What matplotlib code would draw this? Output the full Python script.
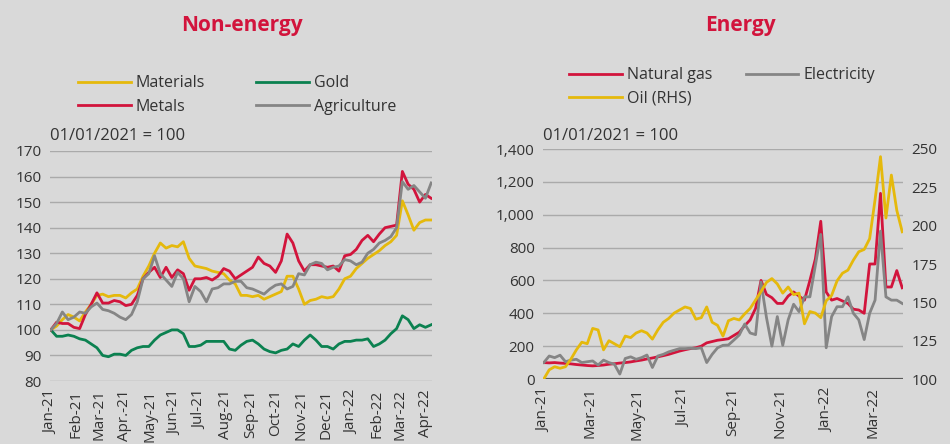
import numpy as np
import pandas as pd
import matplotlib
matplotlib.use("Agg")
import matplotlib.pyplot as plt
import matplotlib.dates as mdates
from matplotlib.ticker import MultipleLocator, StrMethodFormatter

plt.rcParams['font.family'] = ['Open Sans', 'DejaVu Sans']

# weekly readings, 01/01/2021 = 100
dates = pd.date_range('2021-01-01', periods=67, freq='7D')

materials = [100, 101.5, 104, 106, 105, 103.5, 107, 110, 113.5, 114, 113, 113.5, 113.5, 112.5, 114.5, 116,
             121, 125, 130, 134, 132, 133, 132.5, 134.5, 128, 125, 124.5, 124, 123, 122.5, 122, 119.5, 118, 113.5,
             113.5, 113, 113.5, 112, 113, 114, 115, 121, 121, 116, 110, 111.5, 112, 113, 112.5, 113, 116, 120,
             121, 124, 126, 128, 129.5, 131, 133, 134.5, 137, 150.5, 145, 139, 142, 143, 143]
metals = [100, 103, 102.5, 102.5, 101, 100.5, 106, 110, 114.5, 110.5, 110.5, 111.5, 111, 109.5, 110, 113.5,
          120, 122.5, 124.5, 120.5, 124.5, 120.5, 123.5, 122, 115.5, 120, 120, 120.5, 119.5, 121, 124, 123, 120, 121.5,
          123, 124.5, 128.5, 126, 125, 122.5, 127, 137.5, 134, 127, 123, 125.5, 125.5, 125, 124.5, 125, 123, 129,
          129.5, 131.5, 135, 137, 134.5, 137.5, 140, 140.5, 141, 162, 157, 155, 150, 153, 151.5]
gold = [100, 97.5, 97.5, 98, 97.5, 96.5, 96, 94.5, 93, 90, 89.5, 90.5, 90.5, 90, 92, 93,
        93.5, 93.5, 96, 98, 99, 100, 100, 98.5, 93.5, 93.5, 94, 95.5, 95.5, 95.5, 95.5, 92.5, 92, 94,
        95.5, 96, 94.5, 92.5, 91.5, 91, 92, 92.5, 94.5, 93.5, 96, 98, 96, 93.5, 93.5, 92.5, 94.5, 95.5,
        95.5, 96, 96, 96.5, 93.5, 94.5, 96, 98.5, 100.5, 105.5, 104, 100.5, 102, 101, 102]
agriculture = [100, 102.5, 107, 104, 105, 107, 106.5, 109, 110.5, 108, 107.5, 106.5, 105, 104, 106, 111,
               120, 122, 129, 122, 119.5, 117, 122.5, 120, 111, 117, 115, 111, 116, 116.5, 118, 118, 119, 119,
               116.5, 116, 115, 114, 116, 117.5, 118, 116, 117, 122, 121.5, 125.5, 126.5, 126, 123.5, 124.5, 125,
               127.5, 127, 125.5, 126.5, 130, 131.5, 134, 135, 136.5, 140, 158, 155, 156.5, 154, 151.5, 157.5]

natural_gas = [100, 98, 100, 97, 95, 92, 88, 85, 82, 80, 82, 85, 90, 93, 97, 100,
               104, 110, 115, 122, 128, 135, 142, 150, 160, 170, 178, 185, 190, 200, 220, 228, 236, 240,
               245, 265, 285, 325, 360, 430, 600, 515, 495, 460, 460, 505, 530, 505, 480, 600, 730, 960,
               530, 480, 490, 475, 460, 425, 420, 400, 700, 700, 1130, 560, 560, 660, 555]
electricity = [100, 140, 130, 145, 105, 115, 120, 100, 105, 110, 85, 115, 100, 90, 30, 125,
               135, 120, 130, 146, 70, 140, 150, 165, 175, 185, 185, 187, 185, 190, 100, 150, 190, 205,
               207, 237, 268, 335, 280, 270, 590, 375, 200, 380, 205, 360, 455, 410, 500, 500, 690, 880,
               190, 380, 440, 440, 500, 400, 360, 240, 400, 480, 900, 500, 480, 480, 460]
oil = [100, 106, 108, 107, 108, 113, 119, 124, 123, 133, 132, 119, 125, 123, 121, 128,
       127, 130, 131.5, 130, 126, 132, 137, 139.5, 143, 145, 147, 146, 139, 140, 147, 137, 135, 128,
       138, 139.5, 138.5, 142.5, 146, 151.5, 157, 163, 165.5, 162, 156, 160, 155, 156, 136, 144, 143,
       140, 151, 154.5, 164, 169, 171, 177.5, 183, 184.5, 191.5, 217, 245, 205, 233, 210, 196]

left_ticks = pd.date_range('2021-01-01', '2022-04-01', freq='MS')
left_ticklabels = ['Jan-21', 'Feb-21', 'Mar-21', 'Apr.-21', 'May-21', 'Jun-21', 'Jul-21', 'Aug-21',
                   'Sep-21', 'Oct-21', 'Nov-21', 'Dec-21', 'Jan-22', 'Feb-22', 'Mar-22', 'Apr-22']
right_ticks = pd.date_range('2021-01-01', '2022-03-01', freq='2MS')
right_ticklabels = ['Jan-21', 'Mar-21', 'May-21', 'Jul-21', 'Sep-21', 'Nov-21', 'Jan-22', 'Mar-22']

bg = '#d9d9d9'
red = '#d2143c'
yellow = '#e5b90c'
green = '#0b8150'
grey = '#858585'
text_c = '#333333'
lw = 2.0
fs = 11

fig = plt.figure(figsize=(9.5, 4.44), dpi=100, facecolor=bg)
x0, x1 = pd.Timestamp('2020-12-31'), pd.Timestamp('2022-04-09')


def style(ax):
    ax.set_facecolor(bg)
    for s in ax.spines.values():
        s.set_visible(False)
    ax.tick_params(length=0, labelsize=fs, colors=text_c, pad=6)
    ax.grid(axis='y', color='#aaaaaa', linewidth=1)
    ax.set_axisbelow(True)


legend_kw = dict(ncol=2, loc='center', frameon=False, fontsize=fs + 0.5, handlelength=3.3,
                 labelspacing=0.45, handletextpad=0.3, labelcolor=text_c)

# ---- Non-energy ----
ax = fig.add_axes([50 / 950, 1 - 381 / 444, 382 / 950, 230 / 444])
style(ax)
ax.plot(dates, materials, color=yellow, lw=lw, label='Materials')
ax.plot(dates, gold, color=green, lw=lw, label='Gold')
ax.plot(dates, metals, color=red, lw=lw, label='Metals')
ax.plot(dates, agriculture, color=grey, lw=lw, label='Agriculture')
ax.set_ylim(80, 170)
ax.yaxis.set_major_locator(MultipleLocator(10))
ax.set_xlim(x0, x1)
ax.set_xticks(left_ticks, left_ticklabels, rotation=90)
h, l = ax.get_legend_handles_labels()
order = [0, 2, 1, 3]
fig.legend([h[i] for i in order], [l[i] for i in order], bbox_to_anchor=(237 / 950, 1 - 95 / 444),
           columnspacing=3.2, **legend_kw)
fig.text(50 / 950, 1 - 136 / 444, '01/01/2021 = 100', fontsize=12, color=text_c, va='center')
fig.text(242 / 950, 1 - 25 / 444, 'Non-energy', fontsize=15, fontweight='bold', color=red,
         ha='center', va='center')

# ---- Energy ----
ax2 = fig.add_axes([543 / 950, 1 - 379 / 444, 360 / 950, 230 / 444])
style(ax2)
ax2.plot(dates, natural_gas, color=red, lw=lw, label='Natural gas')
ax2.plot(dates, electricity, color=grey, lw=lw, label='Electricity')
ax2.set_ylim(0, 1400)
ax2.yaxis.set_major_locator(MultipleLocator(200))
ax2.yaxis.set_major_formatter(StrMethodFormatter('{x:,.0f}'))
ax2.axhline(0, color='#5a5a5a', lw=1.6)
ax2.set_xlim(x0, x1)
ax2.set_xticks(right_ticks, right_ticklabels, rotation=90)

ax3 = ax2.twinx()
for s in ax3.spines.values():
    s.set_visible(False)
ax3.plot(dates, oil, color=yellow, lw=lw, label='Oil (RHS)')
ax3.set_ylim(100, 250)
ax3.yaxis.set_major_locator(MultipleLocator(25))
ax3.tick_params(length=0, labelsize=fs, colors=text_c, pad=6)
ax3.set_xlim(x0, x1)

h2, l2 = ax2.get_legend_handles_labels()
h3, l3 = ax3.get_legend_handles_labels()
fig.legend([h2[0], h3[0], h2[1]], [l2[0], l3[0], l2[1]], bbox_to_anchor=(722 / 950, 1 - 87 / 444),
           columnspacing=2.1, **legend_kw)
fig.text(543 / 950, 1 - 136 / 444, '01/01/2021 = 100', fontsize=12, color=text_c, va='center')
fig.text(740 / 950, 1 - 25 / 444, 'Energy', fontsize=15, fontweight='bold', color=red,
         ha='center', va='center')

fig.savefig('out.png', dpi=100, facecolor=bg)
